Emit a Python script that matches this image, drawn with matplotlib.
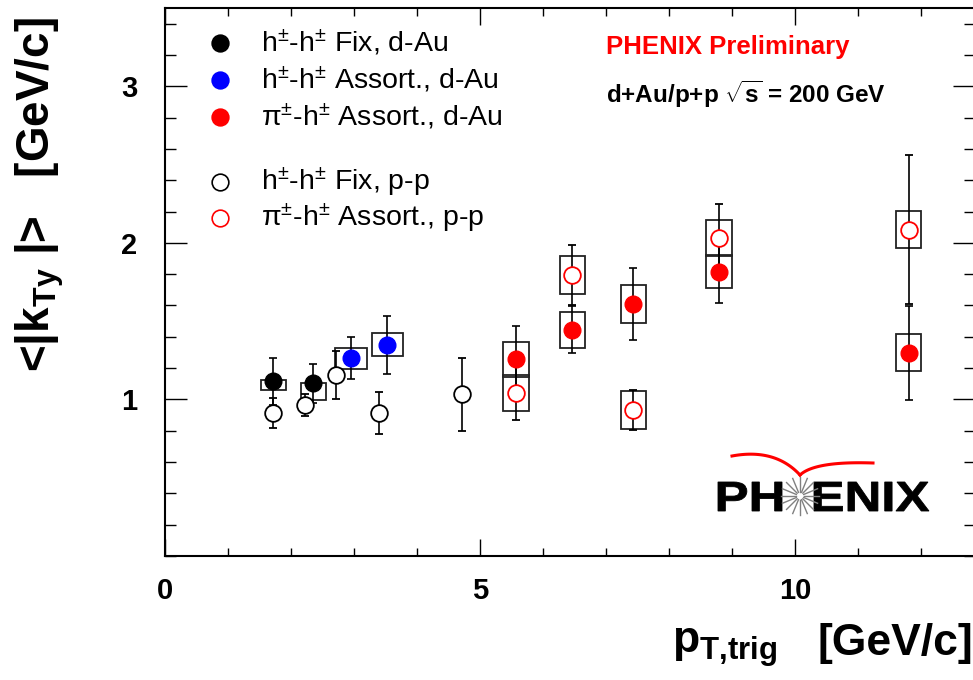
import numpy as np
import matplotlib
matplotlib.use("Agg")
import matplotlib.pyplot as plt
from matplotlib.patches import Rectangle, PathPatch
from matplotlib.lines import Line2D
from matplotlib.ticker import MultipleLocator
from matplotlib.textpath import TextPath
from matplotlib.font_manager import FontProperties
from matplotlib.transforms import IdentityTransform, Affine2D

plt.rcParams['font.family'] = ['Liberation Sans', 'DejaVu Sans']
plt.rcParams['mathtext.fontset'] = 'custom'
plt.rcParams['mathtext.rm'] = 'Liberation Sans'
plt.rcParams['mathtext.it'] = 'Liberation Sans:italic'
plt.rcParams['mathtext.bf'] = 'Liberation Sans:bold'

# h-h Fix, d-Au (filled black)
fix_dau_x = [1.72, 2.35]
fix_dau_y = [1.117, 1.103]
fix_dau_err = [0.15, 0.125]
fix_dau_sys_lo = [1.06, 0.996]
fix_dau_sys_hi = [1.122, 1.103]

# h-h Assort, d-Au (filled blue)
asr_dau_x = [2.95, 3.53]
asr_dau_y = [1.263, 1.348]
asr_dau_err = [0.135, 0.185]
asr_dau_sys_lo = [1.192, 1.278]
asr_dau_sys_hi = [1.331, 1.423]

# pi-h Assort, d-Au (filled red)
pi_dau_x = [5.57, 6.46, 7.43, 8.79, 11.8]
pi_dau_y = [1.256, 1.444, 1.609, 1.816, 1.299]
pi_dau_err = [0.21, 0.15, 0.23, 0.20, 0.30]
pi_dau_sys = [0.11, 0.117, 0.12, 0.107, 0.12]

# h-h Fix, p-p (open black)
fix_pp_x = [1.72, 2.22, 2.71, 3.40, 4.71]
fix_pp_y = [0.915, 0.964, 1.156, 0.915, 1.032]
fix_pp_err = [0.097, 0.07, 0.155, 0.135, 0.235]

# pi-h Assort, p-p (open red)
pi_pp_x = [5.57, 6.46, 7.43, 8.79, 11.8]
pi_pp_y = [1.043, 1.795, 0.932, 2.03, 2.085]
pi_pp_err = [0.175, 0.19, 0.13, 0.22, 0.475]
pi_pp_sys = [0.115, 0.12, 0.12, 0.115, 0.12]

W, H = 973, 680
fig = plt.figure(figsize=(W / 100, H / 100), dpi=100)


def px(x, y):
    return x / W, 1 - y / H


ax = fig.add_axes([165 / W, (H - 556) / H, (W - 165) / W + 0.002, 548 / H])
ax.set_xlim(0, 12.85)
ax.set_ylim(0, 3.5)

red = '#ff0000'
blue = '#0000ff'
ms = 12


def boxes(xs, lo, hi, hw):
    for x, a, b in zip(xs, lo, hi):
        ax.add_patch(Rectangle((x - hw, a), 2 * hw, b - a, fill=False,
                               edgecolor='#222222', lw=1.3, zorder=2))


boxes(fix_dau_x, fix_dau_sys_lo, fix_dau_sys_hi, 0.2)
boxes(asr_dau_x, asr_dau_sys_lo, asr_dau_sys_hi, 0.25)
boxes(pi_dau_x, np.subtract(pi_dau_y, pi_dau_sys), np.add(pi_dau_y, pi_dau_sys), 0.2)
boxes(pi_pp_x, np.subtract(pi_pp_y, pi_pp_sys), np.add(pi_pp_y, pi_pp_sys), 0.2)

eb = dict(ecolor='black', elinewidth=1.2, capsize=3, capthick=1.2, linestyle='none', zorder=3)
ax.errorbar(fix_pp_x, fix_pp_y, yerr=fix_pp_err, marker='o', ms=ms,
            mfc='white', mec='black', mew=1.3, **eb)
ax.errorbar(pi_pp_x, pi_pp_y, yerr=pi_pp_err, marker='o', ms=ms,
            mfc='white', mec=red, mew=1.3, **eb)
ax.errorbar(fix_dau_x, fix_dau_y, yerr=fix_dau_err, marker='o', ms=ms,
            mfc='black', mec='black', **eb)
ax.errorbar(asr_dau_x, asr_dau_y, yerr=asr_dau_err, marker='o', ms=ms,
            mfc=blue, mec=blue, **eb)
ax.errorbar(pi_dau_x, pi_dau_y, yerr=pi_dau_err, marker='o', ms=ms,
            mfc=red, mec=red, **eb)

# axes, ticks
for s in ax.spines.values():
    s.set_linewidth(1.5)
ax.xaxis.set_major_locator(MultipleLocator(5))
ax.xaxis.set_minor_locator(MultipleLocator(1))
ax.yaxis.set_major_locator(MultipleLocator(1))
ax.yaxis.set_minor_locator(MultipleLocator(0.2))
ax.tick_params(axis='both', which='both', direction='in', top=True, right=True, width=1.0)
ax.tick_params(axis='x', which='major', length=12, pad=15)
ax.tick_params(axis='x', which='minor', length=6)
ax.tick_params(axis='y', which='major', length=16, pad=20)
ax.tick_params(axis='y', which='minor', length=8)
ax.set_yticks([1, 2, 3])
ax.set_xticks([0, 5, 10])
for lab in ax.get_xticklabels() + ax.get_yticklabels():
    lab.set_fontsize(21)
    lab.set_fontweight('bold')

# legend
leg_items = [
    (43, 'black', 'black', r'h$^{\pm}$-h$^{\pm}$ Fix, d-Au'),
    (80, blue, blue, r'h$^{\pm}$-h$^{\pm}$ Assort., d-Au'),
    (117, red, red, r'π$^{\pm}$-h$^{\pm}$ Assort., d-Au'),
    (182, 'white', 'black', r'h$^{\pm}$-h$^{\pm}$ Fix, p-p'),
    (218, 'white', red, r'π$^{\pm}$-h$^{\pm}$ Assort., p-p'),
]
for yy, fc, ec, txt in leg_items:
    fig.add_artist(Line2D([220 / W], [1 - yy / H], marker='o', ms=ms,
                          mfc=fc, mec=ec, mew=1.2, linestyle='none'))
    fig.text(*px(261, yy), txt, fontsize=20.5, va='center', ha='left')

fig.text(*px(606, 47), 'PHENIX Preliminary', color=red, fontsize=18.5,
         fontweight='bold', va='center', ha='left')
fig.text(*px(606, 94), r'd+Au/p+p $\sqrt{\mathbf{s}}$ = 200 GeV', fontsize=17.5,
         fontweight='bold', va='center', ha='left')

# axis titles
fig.text(*px(672, 648), r'$\mathbf{p}_{\mathbf{T{,}trig}}$', fontsize=32,
         va='center', ha='left')
fig.text(*px(818, 643), '[GeV/c]', fontsize=32, fontweight='bold',
         va='center', ha='left')
fig.text(*px(40, 195), r'<|$\mathbf{k}_{\mathbf{Ty}}$ |>   [GeV/c]', fontsize=33,
         fontweight='bold', rotation=90, va='center', ha='center')

# PHENIX logo, letters stretched into their boxes (pixel coords)
bold = FontProperties(family='Liberation Sans', weight='bold')


def word(s, x0, x1, y0, y1):
    tp = TextPath((0, 0), s, size=40, prop=bold)
    bb = tp.get_extents()
    tr = (Affine2D().translate(-bb.x0, -bb.y0)
          .scale((x1 - x0) / bb.width, (y1 - y0) / bb.height)
          .translate(x0, H - y1))
    fig.add_artist(PathPatch(tr.transform_path(tp), fc='black', ec='black', lw=0.6,
                             transform=IdentityTransform()))


word('PH', 718, 782, 482, 511)
word('ENIX', 814, 929, 482, 511)
cx, cy = 800, 496
for a in np.linspace(0, np.pi, 8, endpoint=False):
    for sgn in (1, -1):
        x0, y0 = cx + sgn * 4 * np.cos(a), cy + sgn * 4 * np.sin(a)
        x1, y1 = cx + sgn * 19 * np.cos(a), cy + sgn * 19 * np.sin(a)
        fig.add_artist(Line2D([x0 / W, x1 / W], [1 - y0 / H, 1 - y1 / H],
                              color='#808080', lw=1.0))
t = np.linspace(0, 1, 40)
lx = (1 - t) ** 2 * 732 + 2 * (1 - t) * t * 775 + t ** 2 * 800
ly = (1 - t) ** 2 * 456 + 2 * (1 - t) * t * 448 + t ** 2 * 475
rx = (1 - t) ** 2 * 800 + 2 * (1 - t) * t * 815 + t ** 2 * 873
ry = (1 - t) ** 2 * 475 + 2 * (1 - t) * t * 461 + t ** 2 * 463
fig.add_artist(Line2D(lx / W, 1 - ly / H, color=red, lw=2.2))
fig.add_artist(Line2D(rx / W, 1 - ry / H, color=red, lw=2.2))

fig.savefig('out.png', dpi=100)
